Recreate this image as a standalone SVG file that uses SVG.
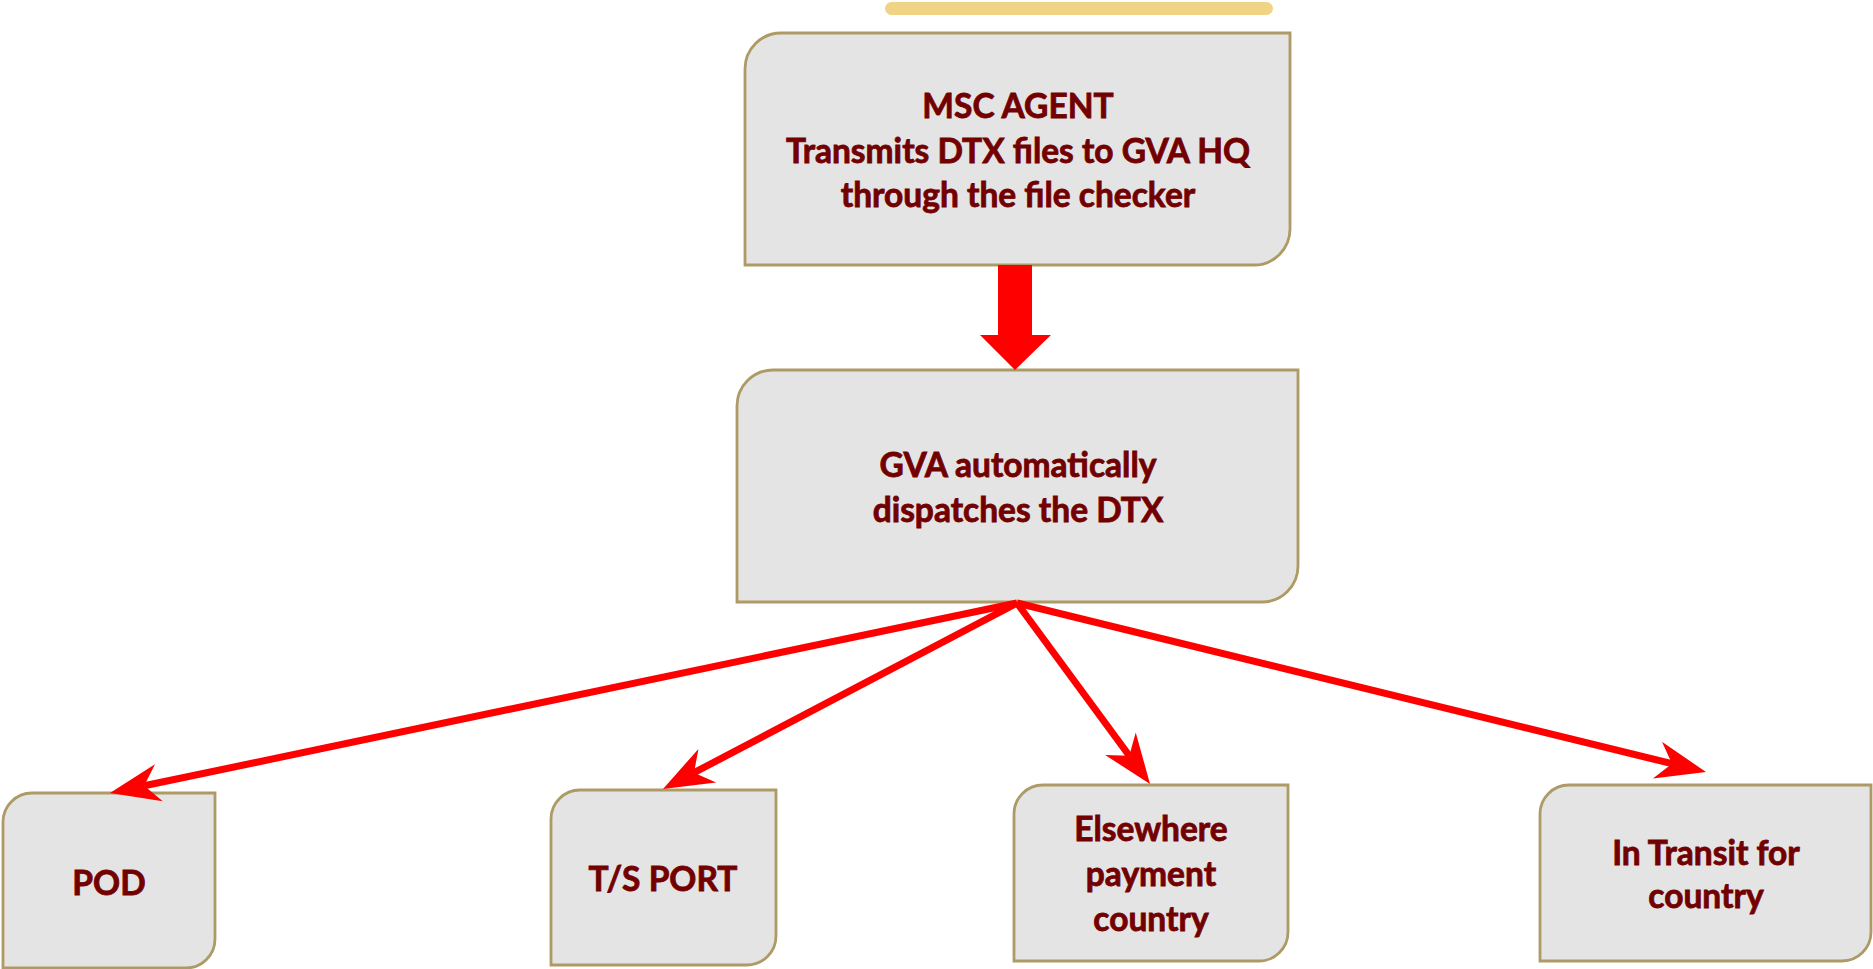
<svg xmlns="http://www.w3.org/2000/svg" width="1873" height="969" viewBox="0 0 1873 969">
<style>
.box{fill:#E4E4E4;stroke:#AD9A64;stroke-width:2.8}
.lbl{font-family:Lato,"Liberation Sans",sans-serif;font-weight:bold;font-size:33.5px;fill:#720000;stroke:#720000;stroke-width:0.8;text-anchor:middle}
.conn{stroke:#FF0000;stroke-width:7;fill:none;marker-end:url(#head)}
</style>
<defs>
<marker id="head" markerUnits="userSpaceOnUse" viewBox="-15 -19 50 38" markerWidth="50" markerHeight="38" refX="0" refY="0" orient="auto" overflow="visible">
<path d="M35,0 L-15,-19 L0,0 L-15,19 Z" fill="#FF0000"/>
</marker>
</defs>
<line x1="891.5" y1="8.5" x2="1266.5" y2="8.5" stroke="#F0D384" stroke-width="13" stroke-linecap="round"/>
<g id="msc-agent">
<path class="box" d="M745,265 L745,69 A36,36 0 0 1 781,33 L1290,33 L1290,229 A36,36 0 0 1 1254,265 Z"/>
<text class="lbl" x="1018" y="118">MSC AGENT</text>
<text class="lbl" x="1018" y="163">Transmits DTX files to GVA HQ</text>
<text class="lbl" x="1018" y="207">through the file checker</text>
</g>
<g id="gva">
<path class="box" d="M737,602 L737,406 A36,36 0 0 1 773,370 L1298,370 L1298,566 A36,36 0 0 1 1262,602 Z"/>
<text class="lbl" x="1018" y="477">GVA automatically</text>
<text class="lbl" x="1018" y="522">dispatches the DTX</text>
</g>
<g id="pod">
<path class="box" d="M3,968 L3,822 A29,29 0 0 1 32,793 L215,793 L215,939 A29,29 0 0 1 186,968 Z"/>
<text class="lbl" x="109" y="895">POD</text>
</g>
<g id="ts-port">
<path class="box" d="M551,965 L551,819 A29,29 0 0 1 580,790 L776,790 L776,936 A29,29 0 0 1 747,965 Z"/>
<text class="lbl" x="663" y="891">T/S PORT</text>
</g>
<g id="elsewhere">
<path class="box" d="M1014,961 L1014,814 A29,29 0 0 1 1043,785 L1288,785 L1288,932 A29,29 0 0 1 1259,961 Z"/>
<text class="lbl" x="1151" y="841">Elsewhere</text>
<text class="lbl" x="1151" y="886">payment</text>
<text class="lbl" x="1151" y="931">country</text>
</g>
<g id="in-transit">
<path class="box" d="M1540,961 L1540,814 A29,29 0 0 1 1569,785 L1871,785 L1871,932 A29,29 0 0 1 1842,961 Z"/>
<text class="lbl" x="1706" y="865">In Transit for</text>
<text class="lbl" x="1706" y="908">country</text>
</g>
<g id="connectors">
<polygon points="998,265 1032,265 1032,335 1051,335 1015,370 980,335 998,335" fill="#FF0000"/>
<line class="conn" x1="1017" y1="603" x2="144.2" y2="785.8"/>
<line class="conn" x1="1017" y1="603" x2="694" y2="772.7"/>
<line class="conn" x1="1017" y1="603" x2="1129.3" y2="755.8"/>
<line class="conn" x1="1017" y1="603" x2="1672" y2="763.7"/>
</g>
</svg>
